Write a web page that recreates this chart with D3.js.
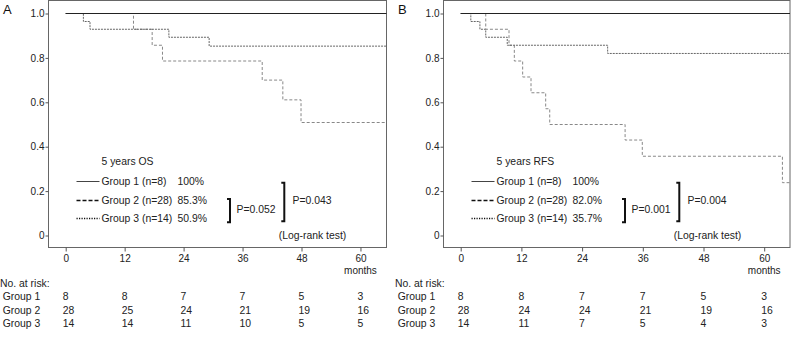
<!DOCTYPE html>
<html>
<head>
<meta charset="utf-8">
<script src="https://cdn.jsdelivr.net/npm/d3@7"></script>
<style>
  body { margin: 0; background: #fff; }
  svg { display: block; font-family: "Liberation Sans", Arial, sans-serif; }
  .axis text { font-size: 10px; fill: #222; }
  .axis line { stroke: #555; }
</style>
</head>
<body>
<div id="chart"></div>
<script>
// Kaplan-Meier step data (months, survival)
const osGroup2Times = [0, 3.6, 4.95, 21.0, 29.2];
const osGroup2Surv = [1, 0.964, 0.929, 0.893, 0.853];
const osGroup3Times = [0, 13.8, 17.6, 19.7, 40.0, 44.2, 47.9];
const osGroup3Surv = [1, 0.929, 0.857, 0.786, 0.70, 0.611, 0.509];

const rfsGroup2Times = [0, 2.0, 3.8, 4.95, 9.2, 29.05];
const rfsGroup2Surv = [1, 0.964, 0.929, 0.893, 0.857, 0.820];
const rfsGroup3Times = [0, 4.95, 9.55, 10.6, 12.25, 13.9, 16.8, 17.6, 32.5, 35.9, 63.6];
const rfsGroup3Surv = [1, 0.929, 0.857, 0.786, 0.714, 0.643, 0.571, 0.50, 0.43, 0.357, 0.238];

const group1Times = [0];
const group1Surv = [1];

const groupNames = ["Group 1 (n=8)", "Group 2 (n=28)", "Group 3 (n=14)"];
const riskGroups = ["Group 1", "Group 2", "Group 3"];
const riskTimes = [0, 12, 24, 36, 48, 60];
const osRisk = [[8, 8, 7, 7, 5, 3], [28, 25, 24, 21, 19, 16], [14, 14, 11, 10, 5, 5]];
const rfsRisk = [[8, 8, 7, 7, 5, 3], [28, 24, 24, 21, 19, 16], [14, 11, 7, 5, 4, 3]];
const osPct = ["100%", "85.3%", "50.9%"];
const rfsPct = ["100%", "82.0%", "35.7%"];
const yTicks = [0, 0.2, 0.4, 0.6, 0.8, 1.0];

const W = 793, H = 342;
const svg = d3.select("#chart").append("svg").attr("width", W).attr("height", H);

const yTop = 13.5, yBottom = 235.5, boxTop = 0.5, boxBottom = 247.5;
const y = d3.scaleLinear().domain([0, 1]).range([yBottom, yTop]);

const styles = [
  { stroke: "#222", dash: null },
  { stroke: "#666", dash: "2,1" },
  { stroke: "#888", dash: "3,2" }
];
const legendStyles = [
  { stroke: "#444", dash: null, w: 1 },
  { stroke: "#111", dash: "4,2", w: 1.4 },
  { stroke: "#111", dash: "1.2,1.3", w: 1.6 }
];

const panels = [
  { label: "A", labelX: 3, left: 48.5, right: 386.5, domain: [-3.5, 65.3], title: "5 years OS",
    curves: [[group1Times, group1Surv], [osGroup2Times, osGroup2Surv], [osGroup3Times, osGroup3Surv]],
    risk: osRisk, pct: osPct, p1: "P=0.052", p2: "P=0.043", textLeft: 0 },
  { label: "B", labelX: 398, left: 443.5, right: 790, domain: [-3.4, 65.1], title: "5 years RFS",
    curves: [[group1Times, group1Surv], [rfsGroup2Times, rfsGroup2Surv], [rfsGroup3Times, rfsGroup3Surv]],
    risk: rfsRisk, pct: rfsPct, p1: "P=0.001", p2: "P=0.004", textLeft: 395 }
];

panels.forEach(p => {
  const g = svg.append("g");
  const x = d3.scaleLinear().domain(p.domain).range([p.left, p.right]);

  // panel letter
  g.append("text").attr("x", p.labelX).attr("y", 13.5)
    .style("font-size", "13px").attr("fill", "#111").text(p.label);

  // box
  g.append("rect").attr("x", p.left).attr("y", boxTop)
    .attr("width", p.right - p.left).attr("height", boxBottom - boxTop)
    .attr("fill", "none").attr("stroke", "#666").attr("stroke-width", 1);

  // y axis
  const ya = g.append("g").attr("class", "axis")
    .attr("transform", `translate(${p.left},0)`)
    .call(d3.axisLeft(y).tickValues(yTicks).tickSize(3).tickPadding(1)
      .tickFormat(d => d === 0 ? "0" : d3.format(".1f")(d)));
  ya.select(".domain").remove();

  // x axis
  const xa = g.append("g").attr("class", "axis")
    .attr("transform", `translate(0,${boxBottom})`)
    .call(d3.axisBottom(x).tickValues(riskTimes).tickSize(4).tickPadding(3));
  xa.select(".domain").remove();

  g.append("text").attr("x", x(60)).attr("y", 273.5).attr("text-anchor", "middle")
    .style("font-size", "10px").attr("fill", "#222").text("months");

  // curves, group 3 first so group 1 ends on top
  const line = d3.line().x(d => x(d[0])).y(d => y(d[1])).curve(d3.curveStepAfter);
  [2, 1, 0].forEach(i => {
    const c = p.curves[i];
    const pts = c[0].map((t, j) => [t, c[1][j]]);
    pts.push([p.domain[1], c[1][c[1].length - 1]]);
    g.append("path").datum(pts).attr("d", line)
      .attr("fill", "none").attr("stroke", styles[i].stroke).attr("stroke-width", 1)
      .attr("stroke-dasharray", styles[i].dash);
  });

  // legend
  const L = p.left;
  const fs = "10.4px";
  g.append("text").attr("x", L + 53).attr("y", 164.5).style("font-size", fs).attr("fill", "#222").text(p.title);
  const rowY = [181.5, 200.5, 218.5];
  groupNames.forEach((name, i) => {
    g.append("line").attr("x1", L + 28).attr("x2", L + 51).attr("y1", rowY[i]).attr("y2", rowY[i])
      .attr("stroke", legendStyles[i].stroke).attr("stroke-width", legendStyles[i].w)
      .attr("stroke-dasharray", legendStyles[i].dash);
    g.append("text").attr("x", L + 53).attr("y", rowY[i] + 3.5).style("font-size", fs).attr("fill", "#222").text(name);
    g.append("text").attr("x", L + 129).attr("y", rowY[i] + 3.5).style("font-size", fs).attr("fill", "#222").text(p.pct[i]);
  });

  // brackets
  const bracket = (bx, y1, y2) => {
    g.append("path").attr("d", `M${bx - 3},${y1}H${bx}V${y2}H${bx - 3}`)
      .attr("fill", "none").attr("stroke", "#111").attr("stroke-width", 2);
  };
  bracket(L + 181.5, 199, 222.3);
  g.append("text").attr("x", L + 188).attr("y", 212.8).style("font-size", fs).attr("fill", "#222").text(p.p1);
  bracket(L + 235.8, 182.7, 221.3);
  g.append("text").attr("x", L + 244).attr("y", 204.2).style("font-size", fs).attr("fill", "#222").text(p.p2);
  g.append("text").attr("x", L + 230.2).attr("y", 239.2).style("font-size", fs).attr("fill", "#222").text("(Log-rank test)");

  // risk table
  const T = p.textLeft;
  g.append("text").attr("x", T).attr("y", 286.8).style("font-size", fs).attr("fill", "#222").text("No. at risk:");
  const riskY = [300.2, 313.5, 326.8];
  riskGroups.forEach((name, i) => {
    g.append("text").attr("x", T + 2.7).attr("y", riskY[i]).style("font-size", fs).attr("fill", "#222").text(name);
    riskTimes.forEach((t, j) => {
      g.append("text").attr("x", x(t) - 3).attr("y", riskY[i]).style("font-size", fs)
        .attr("fill", "#222").text(p.risk[i][j]);
    });
  });
});
</script>
</body>
</html>
